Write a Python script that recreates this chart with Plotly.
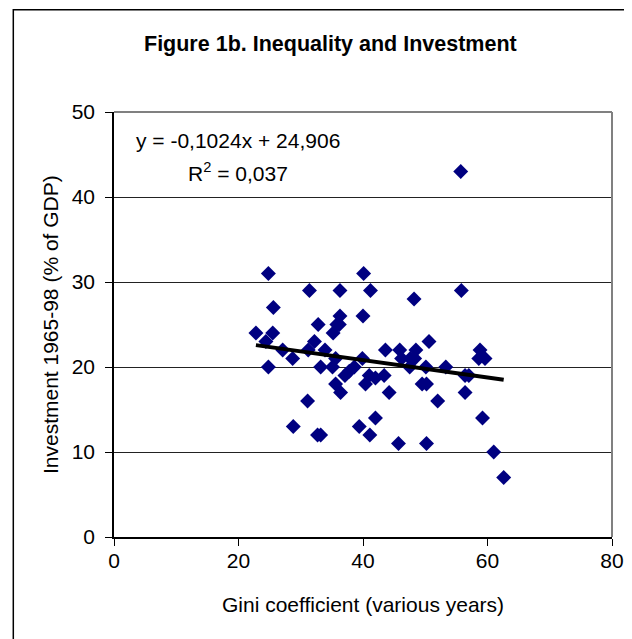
import plotly.graph_objects as go

# Gini coefficient (x) and investment share of GDP (y)
gini = [24.8, 31.4, 36.3, 40.1, 41.2, 48.2, 55.8, 55.7, 25.6, 36.3,
        40.0, 32.8, 35.8, 35.2, 22.8, 25.5, 24.4, 32.2, 31.2, 33.9,
        27.1, 28.7, 35.6, 39.9, 43.6, 45.9, 48.5, 50.6, 58.8, 59.6,
        58.6, 46.2, 47.6, 48.3, 24.8, 33.2, 35.1, 38.6, 47.5, 50.1,
        53.3, 37.8, 37.1, 41.0, 43.4, 56.4, 57.0, 35.6, 40.4, 49.5,
        50.2, 36.4, 44.2, 56.4, 31.1, 52.0, 42.0, 59.2, 28.8, 39.4,
        32.7, 33.2, 41.1, 45.7, 50.2, 61.0, 62.6, 42.0, 36.2]
investment = [31, 29, 29, 31, 29, 28, 29, 43, 27, 26,
              26, 25, 25, 24, 24, 24, 23, 23, 22, 22,
              22, 21, 21, 21, 22, 22, 22, 23, 22, 21,
              21, 21, 21, 21, 20, 20, 20, 20, 20, 20,
              20, 19.5, 19, 19, 19, 19, 19, 18, 18, 18,
              18, 17, 17, 17, 16, 16, 14, 14, 13, 13,
              12, 12, 12, 11, 11, 10, 7, 18.7, 25]

# Linear trend shown in the chart
SLOPE = -0.1024
INTERCEPT = 24.906
EQ_TEXT = "y = -0,1024x + 24,906"
R2_TEXT = "R<sup>2</sup> = 0,037"

x_ticks = [0, 20, 40, 60, 80]
y_ticks = [0, 10, 20, 30, 40, 50]

TITLE = "<b>Figure 1b. Inequality and Investment</b>"
X_TITLE = "Gini coefficient (various years)"
Y_TITLE = "Investment 1965-98 (% of GDP)"

FONT = "Liberation Sans, Arial, sans-serif"

trend_x = [min(gini), max(gini)]
trend_y = [SLOPE * v + INTERCEPT for v in trend_x]

# page body adds an 8px offset; plot area on screen: x 113.5..612, y 112.3..537.3
OFF = 8
PL, PR, PT, PB = 113.5, 612.0, 112.3, 537.3
PW, PH = PR - PL, PB - PT
W, H = 632, 639


def px(sx):
    return (sx - PL) / PW


def py(sy):
    return (PB - sy) / PH


fig = go.Figure()
fig.add_trace(go.Scatter(
    x=gini, y=investment, mode="markers",
    marker=dict(symbol="diamond", size=11.5, color="#000080",
                line=dict(width=0)),
    showlegend=False,
))
fig.add_trace(go.Scatter(
    x=trend_x, y=trend_y, mode="lines",
    line=dict(color="black", width=4),
    showlegend=False,
))

ml = PL - OFF
mt = PT - OFF
fig.update_layout(
    width=W, height=H,
    margin=dict(l=ml, r=W - ml - PW, t=mt, b=H - mt - PH),
    paper_bgcolor="white", plot_bgcolor="white",
    font=dict(family=FONT, color="black", size=21),
    showlegend=False,
    xaxis=dict(
        range=[0, 80], tickvals=x_ticks, ticktext=[str(v) for v in x_ticks],
        showgrid=False, zeroline=False,
        showline=True, linecolor="black", linewidth=1.5,
        ticks="outside", ticklen=7, tickcolor="black", tickwidth=1,
        tickfont=dict(size=21), ticklabelstandoff=-3,
    ),
    yaxis=dict(
        range=[0, 50], tickvals=y_ticks, ticktext=[str(v) for v in y_ticks],
        showgrid=True, gridcolor="#222", gridwidth=1,
        zeroline=False,
        showline=True, linecolor="black", linewidth=1.5,
        ticks="outside", ticklen=7, tickcolor="black", tickwidth=1,
        tickfont=dict(size=21), ticklabelstandoff=6,
    ),
    shapes=[
        # outer chart frame
        dict(type="rect", xref="paper", yref="paper",
             x0=px(12.7), x1=1.2, y0=-0.5, y1=py(10.0),
             line=dict(color="black", width=1.5), layer="below"),
        # plot-area border (top and right)
        dict(type="line", xref="paper", yref="paper", x0=0, x1=1, y0=1, y1=1,
             line=dict(color="#808080", width=2), layer="above"),
        dict(type="line", xref="paper", yref="paper", x0=1, x1=1, y0=0, y1=1,
             line=dict(color="#808080", width=2), layer="above"),
    ],
    annotations=[
        dict(text=TITLE, xref="paper", yref="paper", x=px(330),
             y=py(44), showarrow=False, xanchor="center",
             yanchor="middle", font=dict(size=21.5)),
        dict(text=EQ_TEXT, xref="paper", yref="paper", x=px(133.5),
             y=py(141), showarrow=False, xanchor="left",
             yanchor="middle", font=dict(size=21)),
        dict(text=R2_TEXT, xref="paper", yref="paper", x=px(186),
             y=py(172), showarrow=False, xanchor="left",
             yanchor="middle", font=dict(size=21)),
        dict(text=X_TITLE, xref="paper", yref="paper", x=0.5,
             y=py(605), showarrow=False, xanchor="center",
             yanchor="middle", font=dict(size=21)),
        dict(text=Y_TITLE, xref="paper", yref="paper", x=px(50),
             y=0.5, showarrow=False, xanchor="center",
             yanchor="middle", textangle=-90, font=dict(size=21)),
    ],
)

fig.write_html("out.html")
